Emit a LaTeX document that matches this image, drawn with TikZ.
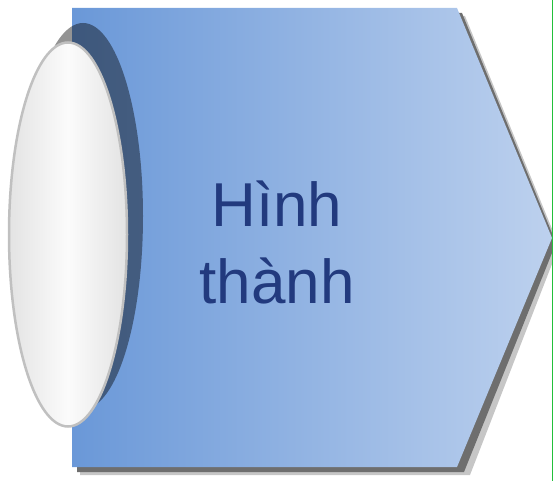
\documentclass[tikz,border=0pt]{standalone}
\usepackage{fontspec}
\setmainfont{Liberation Sans}
\definecolor{bluel}{HTML}{6A98D8}
\definecolor{bluer}{HTML}{BDD1EE}
\definecolor{navy}{HTML}{223A7E}
\definecolor{shadowgray}{HTML}{6E6E6E}
\definecolor{edgegray}{HTML}{C0C0C0}
\definecolor{greenline}{HTML}{22C03A}
\tikzset{
  arrowshape/.style={left color=bluel, right color=bluer, shading angle=90},
  dropshadow/.style={fill=shadowgray},
  softshadow/.style={fill=gray!45},
  discshadow/.style={fill=black, fill opacity=0.42},
  disc/.style={draw=edgegray, line width=2.5pt, left color=gray!22, right color=gray!22, middle color=white!97!gray},
  label/.style={text=navy, font=\fontsize{62}{77}\selectfont, align=center}
}
\begin{document}
\begin{tikzpicture}[x=1pt,y=-1pt]
\useasboundingbox (0,0) rectangle (553,481);
% soft outer shadow
\fill[softshadow] (80,16) -- (465,16) -- (559,246) -- (470,475) -- (80,475) -- cycle;
% drop shadow
\fill[dropshadow] (77,13) -- (462,13) -- (556,243) -- (464,472) -- (77,472) -- cycle;
% arrow body
\shade[arrowshape] (72,8) -- (457,8) -- (552,238) -- (457,467) -- (72,467) -- cycle;
% ellipse shadow
\fill[discshadow] (83,216) ellipse [x radius=60, y radius=193];
% ellipse
\path[disc] (68,234.5) ellipse [x radius=59, y radius=192];
% text
\node[label] (txt) at (277,242) {Hình\\thành};
% green edge line
\coordinate (gtop) at (552.3,0);
\coordinate (gbot) at (552.3,481);
\draw[greenline, line width=1pt] (gtop) -- (gbot);
\end{tikzpicture}
\end{document}
